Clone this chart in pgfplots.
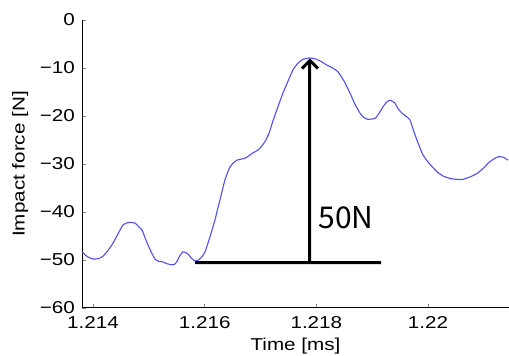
\documentclass[border=0pt]{standalone}
\usepackage{pgfplots}
\pgfplotsset{compat=1.18}
\usepackage{fontspec}
\setmainfont{Liberation Sans}[FakeStretch=1.2]
\newfontfamily\jp{Noto Sans CJK JP}
\usetikzlibrary{arrows.meta}
\definecolor{curve}{RGB}{80,80,235}
\begin{document}
\begin{tikzpicture}
\begin{axis}[
  name=ax,
  scale only axis,
  width=213.5pt, height=144pt,
  xmin=1.213803, xmax=1.22145,
  ymin=-60, ymax=0,
  axis x line*=bottom, axis y line*=left,
  axis line style={-, line width=0.5pt},
  tick align=inside,
  major tick length=2pt,
  xtick={1.214,1.216,1.218,1.22},
  xticklabels={1.214,1.216,1.218,1.22},
  ytick={-60,-50,-40,-30,-20,-10,0},
  yticklabels={−60,−50,−40,−30,−20,−10,0},
  scaled x ticks=false,
  ticklabel style={font=\fontsize{8.6}{10}\selectfont},
  label style={font=\fontsize{8.6}{10}\selectfont},
  xlabel={Time [ms]},
  ylabel={Impact force [N]},
  xlabel style={yshift=2pt},
  ylabel style={yshift=-1pt},
  xticklabel style={yshift=-0.5pt},
]
\addplot[color=curve, line width=0.55pt, smooth, tension=0.3] table {
1.213803 -48.3
1.213900 -49.3
1.214000 -49.8
1.214100 -49.7
1.214179 -49.2
1.214270 -48.0
1.214358 -46.5
1.214450 -44.5
1.214537 -42.7
1.214627 -42.2
1.214700 -42.2
1.214752 -42.3
1.214877 -43.75
1.214930 -45.3
1.214985 -46.9
1.215050 -48.5
1.215110 -49.8
1.215180 -50.3
1.215253 -50.4
1.215330 -50.8
1.215414 -51.0
1.215460 -50.9
1.215504 -50.3
1.215560 -49.0
1.215611 -48.3
1.215650 -48.4
1.215701 -48.75
1.215760 -49.6
1.215826 -50.2
1.215890 -50.0
1.215952 -49.3
1.216010 -48.2
1.216059 -46.5
1.216120 -44.2
1.216184 -41.7
1.216230 -39.5
1.216274 -37.5
1.216320 -35.3
1.216363 -33.3
1.216410 -31.8
1.216453 -30.6
1.216510 -29.8
1.216578 -29.2
1.216650 -29.0
1.216722 -28.8
1.216790 -28.3
1.216847 -27.8
1.216954 -27.1
1.217020 -26.3
1.217080 -25.3
1.217150 -23.7
1.217223 -21.0
1.217300 -18.5
1.217402 -15.2
1.217490 -12.8
1.217581 -10.4
1.217670 -9.0
1.217760 -8.2
1.217885 -7.9
1.217975 -8.1
1.218080 -8.6
1.218190 -9.4
1.218290 -10.0
1.218387 -10.8
1.218500 -12.8
1.218602 -15.2
1.218690 -17.5
1.218781 -19.4
1.218850 -20.3
1.218924 -20.7
1.219049 -20.5
1.219120 -19.5
1.219193 -18.1
1.219260 -17.1
1.219318 -16.7
1.219370 -17.0
1.219407 -17.3
1.219470 -18.6
1.219533 -19.4
1.219600 -20.0
1.219676 -20.8
1.219740 -23.0
1.219801 -25.0
1.219909 -28.1
1.220030 -30.0
1.220159 -31.6
1.220270 -32.5
1.220392 -33.0
1.220510 -33.2
1.220625 -33.2
1.220750 -32.7
1.220875 -32.0
1.221000 -30.8
1.221108 -29.5
1.221252 -28.5
1.221350 -28.6
1.221431 -29.2
};
\begin{scope}[shift={(0.5pt,-0.5pt)}]
\draw[black!12, line width=1.5pt] (axis cs:1.215826,-50.6) -- (axis cs:1.219157,-50.6);
\draw[black!12, line width=1.5pt] (axis cs:1.217885,-50.6) -- (axis cs:1.217885,-9.0);
\end{scope}
\draw[black, line width=1.5pt] (axis cs:1.215826,-50.6) -- (axis cs:1.219157,-50.6);
\draw[black, line width=1.5pt, -{Straight Barb[length=4pt,width=8pt]}] (axis cs:1.217885,-50.6) -- (axis cs:1.217885,-8.0);
\node[font=\jp\fontsize{15}{18}\selectfont, inner sep=0pt] at (axis cs:1.21853,-41.25) {50N};
\end{axis}
\pgfresetboundingbox
\path ([shift={(-41pt,-24pt)}]ax.south west) rectangle ([shift={(0pt,10pt)}]ax.north east);
\end{tikzpicture}
\end{document}
